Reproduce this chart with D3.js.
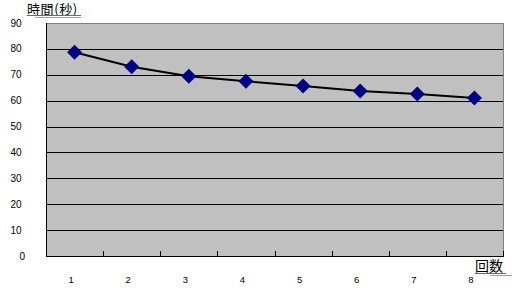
<!DOCTYPE html>
<html><head><meta charset="utf-8">
<script src="https://cdn.jsdelivr.net/npm/d3@7"></script>
<style>
html,body{margin:0;padding:0;background:#fff;}
svg{display:block;}
</style>
</head><body>
<script>
const categories = ["1","2","3","4","5","6","7","8"];
const values = [78.7, 73.1, 69.4, 67.5, 65.7, 63.7, 62.6, 61.0];
const yTicks = [0,10,20,30,40,50,60,70,80,90];
const yTitle = "時間(秒)";
const xTitle = "回数";

(function () {
const W = 514, H = 302;
const pL = 46, pR = 503, pT = 23, pB = 256;

const svg = d3.select("body").append("svg").attr("width", W).attr("height", H);

const x = d3.scaleBand().domain(categories).range([pL, pR]).paddingInner(0).paddingOuter(0);
const y = d3.scaleLinear().domain([0, 90]).range([pB, pT]);

// plot area
svg.append("rect").attr("x", pL + 0.5).attr("y", pT + 0.5).attr("width", pR - pL).attr("height", pB - pT)
  .attr("fill", "#C0C0C0").attr("stroke", "#808080").attr("stroke-width", 1);

// gridlines
svg.append("g").selectAll("line").data(yTicks.filter(d => d > 0 && d < 90)).join("line")
  .attr("x1", pL).attr("x2", pR)
  .attr("y1", d => Math.round(y(d)) + 0.5).attr("y2", d => Math.round(y(d)) + 0.5)
  .attr("stroke", "#000").attr("stroke-width", 1);

// y axis line
svg.append("line").attr("x1", pL + 0.5).attr("x2", pL + 0.5).attr("y1", pT).attr("y2", pB)
  .attr("stroke", "#000");

// x axis with inward ticks at band boundaries
const bounds = categories.map(c => x(c)).concat([pR]).slice(1);
svg.append("line").attr("x1", pL).attr("x2", pR + 1).attr("y1", pB + 0.5).attr("y2", pB + 0.5)
  .attr("stroke", "#000");
svg.append("g").selectAll("line").data(bounds).join("line")
  .attr("x1", d => Math.round(d) + 0.5).attr("x2", d => Math.round(d) + 0.5)
  .attr("y1", pB).attr("y2", pB - 5)
  .attr("stroke", "#000");

// y labels
svg.append("g").selectAll("text").data(yTicks).join("text")
  .attr("x", d => d === 0 ? 25 : 21.5)
  .attr("y", d => y(d))
  .attr("dy", "0.35em")
  .attr("text-anchor", "end")
  .attr("font-family", "Arial, Liberation Sans, sans-serif")
  .attr("font-size", 10)
  .attr("fill", "#000")
  .text(d => d);

// x labels
svg.append("g").selectAll("text").data(categories).join("text")
  .attr("x", d => x(d) + x.bandwidth() / 2 - 3.5)
  .attr("y", 279.5)
  .attr("dy", "0.35em")
  .attr("text-anchor", "middle")
  .attr("font-family", "Arial, Liberation Sans, sans-serif")
  .attr("font-size", 9.5)
  .attr("fill", "#000")
  .text(d => d);

// line
const lineGen = d3.line().x((d, i) => x(categories[i]) + x.bandwidth() / 2).y(d => y(d));
svg.append("path").datum(values).attr("d", lineGen)
  .attr("fill", "none").attr("stroke", "#000").attr("stroke-width", 2);

// markers
svg.append("g").selectAll("path").data(values).join("path")
  .attr("transform", (d, i) => `translate(${x(categories[i]) + x.bandwidth() / 2},${y(d)})`)
  .attr("d", "M0,-7.5L7.5,0L0,7.5L-7.5,0Z")
  .attr("fill", "#000080");

// titles
const cjk = "'Noto Sans CJK JP', sans-serif";
svg.append("text").attr("x", 27).attr("y", 14)
  .attr("font-family", cjk).attr("font-size", 13).attr("letter-spacing", 0.6)
  .attr("fill", "#000").text(yTitle);
svg.append("line").attr("x1", 27).attr("x2", 81).attr("y1", 15.5).attr("y2", 15.5)
  .attr("stroke", "#FF00FF").attr("stroke-width", 1);
svg.append("line").attr("x1", 35).attr("x2", 81).attr("y1", 17.5).attr("y2", 17.5)
  .attr("stroke", "#A0A0A0").attr("stroke-width", 1);

svg.append("text").attr("x", 475).attr("y", 271)
  .attr("font-family", cjk).attr("font-size", 14).attr("fill", "#000").text(xTitle);
svg.append("line").attr("x1", 475).attr("x2", 506).attr("y1", 273.5).attr("y2", 273.5)
  .attr("stroke", "#FF00FF").attr("stroke-width", 1);
svg.append("line").attr("x1", 490).attr("x2", 512).attr("y1", 275.5).attr("y2", 275.5)
  .attr("stroke", "#A0A0A0").attr("stroke-width", 1);
})();
</script>
</body></html>
